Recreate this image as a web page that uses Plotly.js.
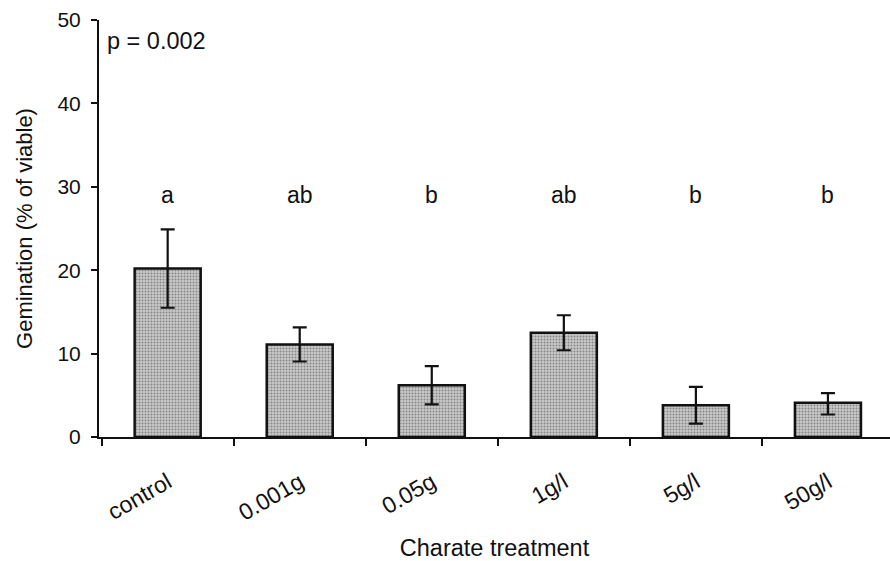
<!DOCTYPE html>
<html>
<head>
<meta charset="utf-8">
<script src="https://cdn.plot.ly/plotly-3.0.1.min.js"></script>
<style>html,body{margin:0;padding:0;background:#fff;}#chart{width:890px;height:561px;}</style>
</head>
<body>
<div id="chart"></div>
<script>
// Data
const categories = ["control", "0.001g", "0.05g", "1g/l", "5g/l", "50g/l"];
const germination = [20.2, 11.1, 6.2, 12.5, 3.8, 4.1];
const errorPlus = [4.7, 2.05, 2.3, 2.1, 2.2, 1.15];
const errorMinus = [4.7, 2.05, 2.3, 2.1, 2.2, 1.4];
const letters = ["a", "ab", "b", "ab", "b", "b"];
const letterLevel = 29;
const pText = "p = 0.002";

const font = "Liberation Sans, Arial, sans-serif";
const fs = 21;
const fsBig = 23.5;

const trace = {
  type: "bar",
  x: categories,
  y: germination,
  marker: {
    color: "#b3b3b3",
    line: {color: "#111", width: 2.5},
    pattern: {shape: ".", fgcolor: "#888", bgcolor: "#c9c9c9", size: 3, solidity: 0.35, fillmode: "replace"}
  },
  error_y: {
    type: "data", symmetric: false,
    array: errorPlus, arrayminus: errorMinus,
    color: "#111", thickness: 2.2, width: 7
  },
  hoverinfo: "skip"
};

const annotations = letters.map((t, i) => ({
  x: categories[i], y: letterLevel, xref: "x", yref: "y",
  text: t, showarrow: false,
  font: {family: font, size: 23, color: "#111"}
}));
annotations.push({
  xref: "paper", yref: "paper", x: 0.008, y: 0.95,
  xanchor: "left", yanchor: "middle",
  text: pText, showarrow: false,
  font: {family: font, size: fsBig, color: "#111"}
});

const layout = {
  width: 890, height: 561,
  margin: {l: 99, r: 0, t: 20, b: 124},
  paper_bgcolor: "#fff", plot_bgcolor: "#fff",
  showlegend: false,
  bargap: 0.5,
  font: {family: font, size: fs, color: "#111"},
  xaxis: {
    type: "category",
    range: [-0.52, 5.47],
    showline: true, linecolor: "#111", linewidth: 2,
    ticks: "outside", tickson: "boundaries", ticklen: 7, tickwidth: 2, tickcolor: "#111",
    tickangle: -30,
    ticklabelstandoff: 21,
    tickfont: {family: font, size: 23, color: "#111"},
    showgrid: false, zeroline: false,
    title: {text: "Charate treatment", font: {family: font, size: fsBig, color: "#111"}, standoff: 16}
  },
  yaxis: {
    range: [0, 50],
    tickvals: [0, 10, 20, 30, 40, 50],
    showline: true, linecolor: "#111", linewidth: 2,
    ticks: "outside", ticklen: 6, tickwidth: 2, tickcolor: "#111",
    ticklabelstandoff: 6,
    tickfont: {family: font, size: fs, color: "#111"},
    showgrid: false, zeroline: false,
    title: {text: "Gemination (% of viable)", font: {family: font, size: 22, color: "#111"}, standoff: 19}
  },
  annotations: annotations
};

Plotly.newPlot("chart", [trace], layout, {displayModeBar: false, staticPlot: true});
</script>
</body>
</html>
